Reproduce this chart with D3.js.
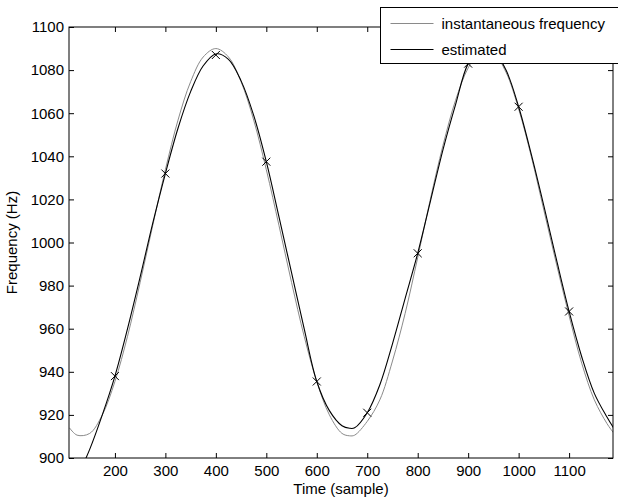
<!DOCTYPE html>
<html>
<head>
<meta charset="utf-8">
<script src="https://cdn.jsdelivr.net/npm/d3@7"></script>
<style>
body{margin:0;background:#fff;}
text{font-family:"Liberation Sans",Arial,sans-serif;}
</style>
</head>
<body>
<script>
// data
var timeSamples = [110,125,150,175,200,225,250,275,300,325,350,375,400,425,450,475,500,525,550,575,600,625,650,665,675,700,725,750,775,800,825,850,875,900,925,950,975,1000,1025,1050,1075,1100,1125,1150,1175,1188];
var instFreq = [914,910.6,911.4,920,935.5,956.5,981.5,1008,1033.8,1056.8,1074.6,1086.1,1090,1086.1,1074.6,1056.8,1033.8,1008,981.5,956.5,935.5,920,911.4,910.3,910.6,917,927,945,967,993,1020,1045,1066,1081,1089,1088,1079,1062,1040,1015,990,966,944,927,916,911.7];
var estFreq = [884,891,904,920,938,960,984,1009,1032,1053,1070,1082,1087.5,1085,1075,1059,1037.5,1012,986,960,935.5,922,915,913.8,914,921,934,953,974,995,1019,1043,1064,1083,1090,1089,1080,1063,1041,1017,992,968,947,930,919,914];
var markerTimes = [200,300,400,500,600,700,800,900,1000,1100];//x marks
var markerFreqs = [938,1032,1087,1037.5,935.5,921,995,1083,1063,968];
var xTicks = [200,300,400,500,600,700,800,900,1000,1100];
var yTicks = [900,920,940,960,980,1000,1020,1040,1060,1080,1100];
var legendNames = ["instantaneous frequency","estimated"];

var W = 618, H = 498;
var margin = {left:69, top:27, right:5, bottom:40};
var width = W - margin.left - margin.right;//plot width
var height = H - margin.top - margin.bottom;//plot height
var fontSize = 15;

var svg = d3.select("body").append("svg")//canvas
    .attr("width", W)
    .attr("height", H);

var xScale = d3.scaleLinear().domain([109,1187]).range([0,width]);
var yScale = d3.scaleLinear().domain([900,1100]).range([height,0]);

var g = svg.append("g")
    .attr("transform","translate(" + margin.left + "," + margin.top + ")");

g.append("clipPath").attr("id","plotclip")
  .append("rect").attr("width",width).attr("height",height);

var plot = g.append("g").attr("clip-path","url(#plotclip)");

var line = d3.line().curve(d3.curveCatmullRom.alpha(0.5));

var grayPts = timeSamples.map(function(t,i){return [xScale(t), yScale(instFreq[i])];});
var blackPts = timeSamples.map(function(t,i){return [xScale(t), yScale(estFreq[i])];});

plot.append("path")//instantaneous frequency
    .attr("d", line(grayPts))
    .attr("fill","none").attr("stroke","#8a8a8a").attr("stroke-width",1);
plot.append("path")//estimated
    .attr("d", line(blackPts))
    .attr("fill","none").attr("stroke","#000").attr("stroke-width",1.1);

// x markers
var ms = 4;
markerTimes.forEach(function(t,i){
    var cx = xScale(t), cy = yScale(markerFreqs[i]);
    plot.append("path")
        .attr("d","M"+(cx-ms)+","+(cy-ms)+"L"+(cx+ms)+","+(cy+ms)+"M"+(cx-ms)+","+(cy+ms)+"L"+(cx+ms)+","+(cy-ms))
        .attr("stroke","#000").attr("stroke-width",1).attr("fill","none");
});

// axes, matlab style ticks inside on all four sides
var tickLen = 5;
var fmt = d3.format("d");
var xAxisB = d3.axisBottom(xScale).tickValues(xTicks).tickFormat(fmt).tickSizeInner(-tickLen).tickSizeOuter(0).tickPadding(7);
var xAxisT = d3.axisTop(xScale).tickValues(xTicks).tickSizeInner(-tickLen).tickSizeOuter(0).tickFormat("");
var yAxisL = d3.axisLeft(yScale).tickValues(yTicks).tickFormat(fmt).tickSizeInner(-tickLen).tickSizeOuter(0).tickPadding(5);
var yAxisR = d3.axisRight(yScale).tickValues(yTicks).tickSizeInner(-tickLen).tickSizeOuter(0).tickFormat("");

var axB = g.append("g").attr("transform","translate(0,"+height+")").call(xAxisB);
var axT = g.append("g").call(xAxisT);
var axL = g.append("g").call(yAxisL);
var axR = g.append("g").attr("transform","translate("+width+",0)").call(yAxisR);

[axB,axT,axL,axR].forEach(function(a){
    a.select(".domain").remove();
    a.selectAll("line").attr("stroke","#000");
    a.selectAll("text").attr("font-size",fontSize).attr("fill","#000")
     .attr("font-family","'Liberation Sans',Arial,sans-serif");
});

g.append("rect")//box
    .attr("width",width).attr("height",height)
    .attr("fill","none").attr("stroke","#000").attr("stroke-width",1);

// axis labels
svg.append("text")
    .attr("x", margin.left + width/2).attr("y", 494)
    .attr("text-anchor","middle").attr("font-size",fontSize)
    .text("Time (sample)");
svg.append("text")
    .attr("transform","translate(17,"+(margin.top+height/2)+") rotate(-90)")
    .attr("text-anchor","middle").attr("font-size",fontSize)
    .text("Frequency (Hz)");

// legend
var leg = svg.append("g").attr("transform","translate(380.5,7.5)");
leg.append("rect").attr("width",260).attr("height",56)
    .attr("fill","#fff").attr("stroke","#000").attr("stroke-width",1);
var legColors = ["#8a8a8a","#000"];
legendNames.forEach(function(name,i){
    var ly = 16 + i*26;
    leg.append("line").attr("x1",10).attr("x2",53).attr("y1",ly).attr("y2",ly)
        .attr("stroke",legColors[i]).attr("stroke-width",1);
    leg.append("text").attr("x",61).attr("y",ly+5).attr("font-size",fontSize).text(name);
});
</script>
</body>
</html>
